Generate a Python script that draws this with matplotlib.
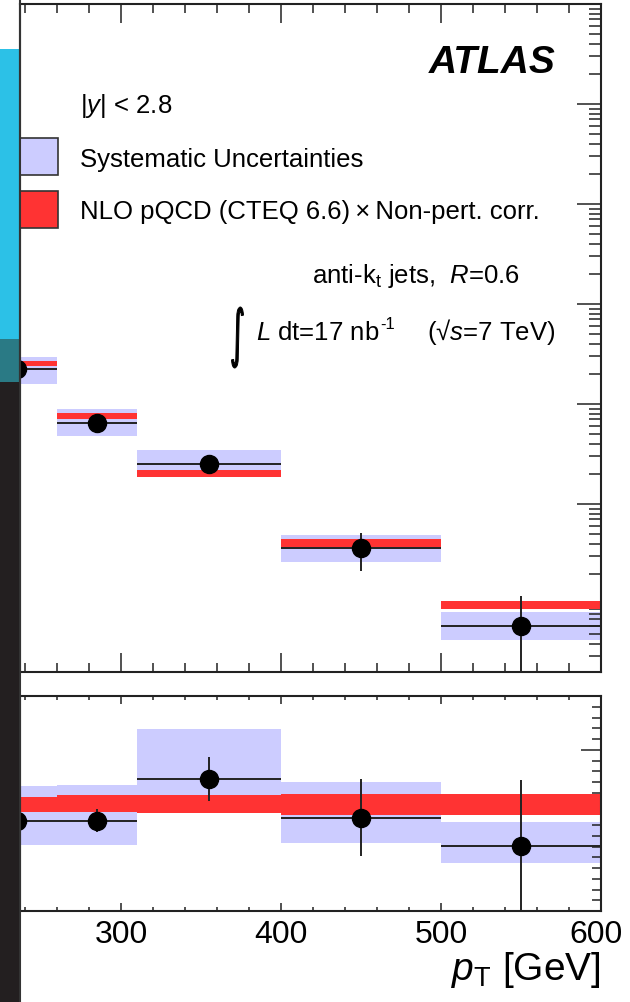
import matplotlib
matplotlib.use('Agg')
import matplotlib.pyplot as plt
import numpy as np
from matplotlib.patches import Rectangle, PathPatch
from matplotlib.lines import Line2D
from matplotlib.textpath import TextPath
from matplotlib.font_manager import FontProperties
from matplotlib.transforms import Affine2D, IdentityTransform, ScaledTranslation
from matplotlib.ticker import FixedLocator, MultipleLocator, LogLocator, NullFormatter

plt.rcParams['font.family'] = ['Liberation Sans', 'DejaVu Sans']
plt.rcParams['mathtext.fontset'] = 'custom'
plt.rcParams['mathtext.rm'] = 'Liberation Sans'
plt.rcParams['mathtext.it'] = 'Liberation Sans:italic'
plt.rcParams['mathtext.bf'] = 'Liberation Sans:bold'

# ---------------- data ----------------
bin_edges = [210, 260, 310, 400, 500, 600]
bin_centers = [235, 285, 355, 450, 550]

# top panel: cross section (arbitrary units, log scale)
xsec = [0.224, 0.0646, 0.0251, 0.00363, 0.000603]
xsec_stat = [0.011, 0.0084, 0.0043, 0.00149, 0.000600]
sys_lo = [0.158, 0.0479, 0.0186, 0.00263, 0.000437]
sys_hi = [0.295, 0.0891, 0.0347, 0.0049, 0.000832]
theo_lo = [0.240, 0.0708, 0.0186, 0.00372, 0.000891]
theo_hi = [0.269, 0.0813, 0.0219, 0.00447, 0.00107]

# bottom panel: ratio
ratio = [0.841, 0.841, 1.224, 0.869, 0.607]
ratio_stat = [0.05, 0.11, 0.205, 0.355, 0.607]
rsys_lo = [0.617, 0.617, 0.953, 0.636, 0.449]
rsys_hi = [1.159, 1.168, 1.692, 1.196, 0.832]
rtheo_lo = [0.925, 0.925, 0.907, 0.897, 0.897]
rtheo_hi = [1.065, 1.075, 1.075, 1.084, 1.093]

xticks = [300, 400, 500, 600]
xticklabels = ['300', '400', '500', '600']

SYS_C = '#ccccff'
THEO_C = '#ff3333'
INK = '#222222'

W, H = 630, 1003
fig = plt.figure(figsize=(W / 100, H / 100), dpi=100)


def fx(x):
    return x / W


def fy(y):
    return 1 - y / H


# ------------- slide background strip on the left -------------
fig.add_artist(Rectangle((0, fy(340)), fx(19), (340 - 50) / H, transform=fig.transFigure,
                         facecolor='#2cc1e7', edgecolor='none', zorder=0))
fig.add_artist(Rectangle((0, fy(383)), fx(19), (383 - 340) / H, transform=fig.transFigure,
                         facecolor='#2a7a85', edgecolor='none', zorder=0))
fig.add_artist(Rectangle((0, 0), fx(19), (1003 - 383) / H, transform=fig.transFigure,
                         facecolor='#231f20', edgecolor='none', zorder=0))
fig.add_artist(Line2D([fx(20), fx(20)], [0, 1], transform=fig.transFigure,
                      color='#333333', lw=1.5, zorder=1))

# ------------- axes -------------
L, R = 20, 601
ax1 = fig.add_axes([fx(L), fy(673), (R - L) / W, (673 - 5) / H])
ax2 = fig.add_axes([fx(L), fy(912), (R - L) / W, (912 - 697) / H])

xmin, xmax = 236.9, 600
widths = np.diff(bin_edges)
lefts = np.array(bin_edges[:-1])

# top panel
ax1.set_yscale('log')
ax1.bar(lefts, np.array(sys_hi) - np.array(sys_lo), bottom=sys_lo, width=widths,
        align='edge', color=SYS_C, lw=0, zorder=1)
ax1.bar(lefts, np.array(theo_hi) - np.array(theo_lo), bottom=theo_lo, width=widths,
        align='edge', color=THEO_C, lw=0, zorder=2)
ax1.errorbar(bin_centers, xsec, xerr=widths / 2, yerr=xsec_stat, fmt='o', color='black',
             ecolor=INK, elinewidth=1.4, markersize=13, capsize=0, zorder=3)
ax1.set_xlim(xmin, xmax)
ax1.set_ylim(10 ** (3 - 6.68), 1e3)

# ratio panel
ax2.bar(lefts, np.array(rsys_hi) - np.array(rsys_lo), bottom=rsys_lo, width=widths,
        align='edge', color=SYS_C, lw=0, zorder=1)
ax2.bar(lefts, np.array(rtheo_hi) - np.array(rtheo_lo), bottom=rtheo_lo, width=widths,
        align='edge', color=THEO_C, lw=0, zorder=2)
ax2.errorbar(bin_centers, ratio, xerr=widths / 2, yerr=ratio_stat, fmt='o', color='black',
             ecolor=INK, elinewidth=1.4, markersize=13, capsize=0, zorder=3)
ax2.set_xlim(xmin, xmax)
ax2.set_ylim(0, 2)

for ax in (ax1, ax2):
    for s in ax.spines.values():
        s.set_linewidth(1.5)
        s.set_color(INK)
    ax.xaxis.set_major_locator(FixedLocator(xticks))
    ax.xaxis.set_minor_locator(MultipleLocator(20))

# ticks top panel
ax1.tick_params(axis='x', which='major', direction='in', length=14, width=1.1, color=INK,
                top=True, bottom=True, labelbottom=False)
ax1.tick_params(axis='x', which='minor', direction='in', length=6.5, width=1.1, color=INK,
                top=True, bottom=True)
ax1.yaxis.set_major_locator(LogLocator(base=10, numticks=20))
ax1.yaxis.set_minor_locator(LogLocator(base=10, subs=np.arange(2, 10), numticks=50))
ax1.yaxis.set_minor_formatter(NullFormatter())
ax1.tick_params(axis='y', which='major', direction='in', length=17, width=1.1, color=INK,
                left=False, right=True, labelleft=False, labelright=False)
ax1.tick_params(axis='y', which='minor', direction='in', length=8.6, width=1.1, color=INK,
                left=False, right=True, labelleft=False, labelright=False)

# ticks ratio panel
ax2.set_xticklabels(xticklabels)
ax2.tick_params(axis='x', which='major', direction='in', length=6, width=1.1, color=INK,
                top=True, bottom=True, labelsize=23, pad=6)
ax2.tick_params(axis='x', which='minor', direction='in', length=3, width=1.1, color=INK,
                top=True, bottom=True)
ax2.yaxis.set_major_locator(FixedLocator([1.5]))
ax2.yaxis.set_minor_locator(MultipleLocator(0.1))
ax2.tick_params(axis='y', which='major', direction='in', length=14.4, width=1.1, color=INK,
                left=False, right=True, labelleft=False, labelright=False)
ax2.tick_params(axis='y', which='minor', direction='in', length=6.5, width=1.1, color=INK,
                left=False, right=True, labelleft=False, labelright=False)
last = ax2.get_xticklabels()[-1]
last.set_transform(last.get_transform() + ScaledTranslation(-5 / 100, 0, fig.dpi_scale_trans))

# ------------- legend boxes -------------
def px_to_ax1(x, y):
    return ((x - L) / (R - L), (673 - y) / (673 - 5))


for (y0, y1, c) in [(139, 176, SYS_C), (192, 229, THEO_C)]:
    ax_x0, ax_y0 = px_to_ax1(5, y1)
    ax_x1, ax_y1 = px_to_ax1(58, y0)
    ax1.add_patch(Rectangle((ax_x0, ax_y0), ax_x1 - ax_x0, ax_y1 - ax_y0, transform=ax1.transAxes,
                            facecolor=c, edgecolor='#333333', lw=1.2, zorder=5, clip_on=True))

# ------------- texts -------------
FS = 18.5
fig.text(fx(556), fy(73), 'ATLAS', fontsize=28, fontweight='bold', fontstyle='italic',
         ha='right', va='baseline')
fig.text(fx(80), fy(113), r'$|y|$ < 2.8', fontsize=FS, ha='left', va='baseline')
fig.text(fx(80), fy(167), 'Systematic Uncertainties', fontsize=FS, ha='left', va='baseline')
fig.text(fx(80), fy(219), 'NLO pQCD (CTEQ 6.6)\u2009\u00d7\u2009Non-pert. corr.', fontsize=FS,
         ha='left', va='baseline')
fig.text(fx(520), fy(283), r'anti-$\mathrm{k}_{\mathrm{t}}$ jets,  $R$=0.6', fontsize=FS,
         ha='right', va='baseline')

# integral sign, drawn as a narrow glyph outline (pixel coordinates)
ipath = TextPath((0, 0), '\u222b', size=100, prop=FontProperties(family='DejaVu Sans'))
ext = ipath.get_extents()
tx0, tx1, ty_top, ty_bot = 231.5, 243.5, 308.0, 369.0
sx = (tx1 - tx0) / ext.width
sy = (ty_bot - ty_top) / ext.height
itr = Affine2D().translate(-ext.x0, -ext.y0).scale(sx, sy).translate(tx0, H - ty_bot)
fig.add_artist(PathPatch(ipath, transform=itr + IdentityTransform(), facecolor='black',
                         edgecolor='black', lw=0.7, zorder=10))

t_main = fig.text(fx(256), fy(340), r'$L$ dt=17 nb', fontsize=FS, ha='left', va='baseline')
fig.canvas.draw()
bb = t_main.get_window_extent(renderer=fig.canvas.get_renderer())
fig.text(bb.x1 / W + 1 / W, fy(329), '-1', fontsize=12, ha='left', va='baseline')
fig.text(fx(555), fy(340), '(\u221a$s$=7 TeV)', fontsize=FS, ha='right', va='baseline')

fig.text(fx(601), fy(980), r'$p_{\mathrm{T}}$ [GeV]', fontsize=28, ha='right', va='baseline')

fig.savefig('out.png', dpi=100)
